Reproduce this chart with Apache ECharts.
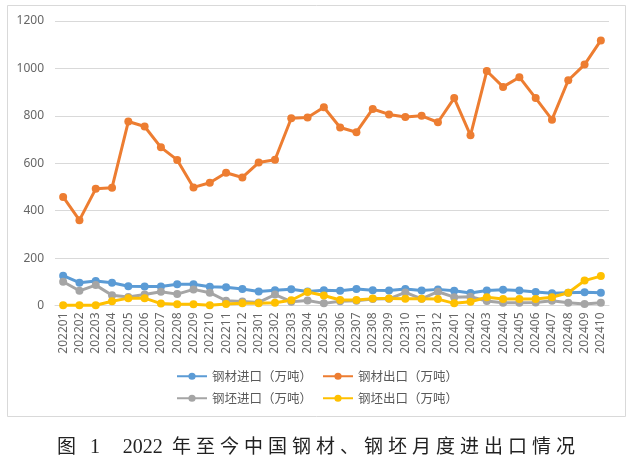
<!DOCTYPE html>
<html>
<head>
<meta charset="utf-8">
<script src="https://cdn.jsdelivr.net/npm/echarts@6/dist/echarts.min.js"></script>
<style>
  html, body { margin: 0; padding: 0; background: #fff; }
  #wrap { position: relative; width: 635px; height: 463px; }
  #chart { position: absolute; left: 0; top: 0; width: 635px; height: 463px; }
  #caption {
    position: absolute; left: 57px; top: 431px;
    font-family: "Liberation Serif", "DejaVu Serif", "Noto Sans CJK SC", serif;
    font-size: 19px; letter-spacing: 4.6px; color: #222; white-space: pre;
  }
  #caption .num { letter-spacing: 0; font-size: 20px; }
  #caption .rest { letter-spacing: 5px; }
</style>
</head>
<body>
<div id="wrap">
  <div id="chart"></div>
  <div id="caption">图 <span class="num">1</span>  <span class="num" style="margin-left:4px">2022</span> <span class="rest">年至今中国钢材、钢坯月度进出口情况</span></div>
</div>
<script>
// 月份
const months = [
  '202201', '202202', '202203', '202204', '202205', '202206', '202207', '202208', '202209', '202210', '202211', '202212',
  '202301', '202302', '202303', '202304', '202305', '202306', '202307', '202308', '202309', '202310', '202311', '202312',
  '202401', '202402', '202403', '202404', '202405', '202406', '202407', '202408', '202409', '202410'
]
// 钢材进口（万吨）
const steelImport = [126, 96, 103, 96, 81, 80, 80, 90, 90, 79, 77, 70,
  59, 64, 69, 59, 64, 62, 70, 64, 63, 70, 63, 68,
  62, 53, 63, 66, 63, 57, 52, 54, 56, 54]
// 钢材出口（万吨）
const steelExport = [458, 360, 492, 497, 776, 755, 667, 614, 498, 518, 560, 540,
  603, 615, 790, 793, 836, 751, 731, 829, 806, 795, 800, 773,
  875, 718, 989, 922, 963, 875, 784, 950, 1016, 1118]
// 钢坯进口（万吨）
const billetImport = [100, 62, 86, 43, 36, 46, 58, 48, 68, 54, 20, 17,
  13, 46, 16, 21, 9, 18, 20, 27, 28, 55, 28, 58,
  35, 37, 19, 12, 12, 13, 20, 12, 6, 12]
// 钢坯出口（万吨）
const billetExport = [1, 1, 1, 18, 31, 31, 8, 5, 5, 1, 6, 9,
  9, 12, 22, 57, 42, 23, 23, 29, 29, 28, 28, 27,
  9, 16, 35, 27, 27, 27, 35, 54, 105, 124]
// y轴刻度
const yTicks = [0, 200, 400, 600, 800, 1000, 1200]

const names = ['钢材进口（万吨）', '钢材出口（万吨）', '钢坯进口（万吨）', '钢坯出口（万吨）']
const colors = ['#5B9BD5', '#ED7D31', '#A5A5A5', '#FFC000']
const values = [steelImport, steelExport, billetImport, billetExport]

const chart = echarts.init(document.getElementById('chart'), null, { renderer: 'canvas' })

const legendBase = {
  left: 171,
  itemWidth: 30,
  itemHeight: 9,
  itemGap: 10,
  textStyle: { color: '#595959', fontSize: 12.5, fontFamily: 'Noto Sans CJK SC' }
}

const option = {
  backgroundColor: '#fff',
  animation: false,
  graphic: [{
    type: 'rect',
    shape: { x: 7.5, y: 5.5, width: 618, height: 411 },
    style: { fill: 'none', stroke: '#d9d9d9', lineWidth: 1 },
    silent: true
  }],
  legend: [
    Object.assign({ top: 365, data: [names[0], names[1]] }, legendBase),
    Object.assign({ top: 387, data: [names[2], names[3]] }, legendBase)
  ],
  grid: { left: 55, right: 26, top: 21, bottom: 157.5 },
  xAxis: {
    type: 'category',
    data: months,
    boundaryGap: true,
    axisLine: { lineStyle: { color: '#d9d9d9' } },
    axisTick: { show: false },
    axisLabel: {
      rotate: 90,
      interval: 0,
      margin: 7,
      color: '#666',
      fontSize: 12,
      fontFamily: 'Noto Sans'
    }
  },
  yAxis: {
    type: 'value',
    min: yTicks[0],
    max: yTicks[yTicks.length - 1],
    interval: 200,
    axisLine: { show: false },
    axisTick: { show: false },
    splitLine: { lineStyle: { color: '#d9d9d9' } },
    axisLabel: {
      color: '#666', fontSize: 12, margin: 11, fontFamily: 'Noto Sans',
      formatter: function (v) { return String(v) }
    }
  },
  series: names.map(function (name, i) {
    return {
      name: name,
      type: 'line',
      data: values[i],
      symbol: 'circle',
      symbolSize: 8,
      color: colors[i],
      lineStyle: { width: 3, color: colors[i] },
      itemStyle: { color: colors[i] }
    }
  })
}

chart.setOption(option, true)
</script>
</body>
</html>
